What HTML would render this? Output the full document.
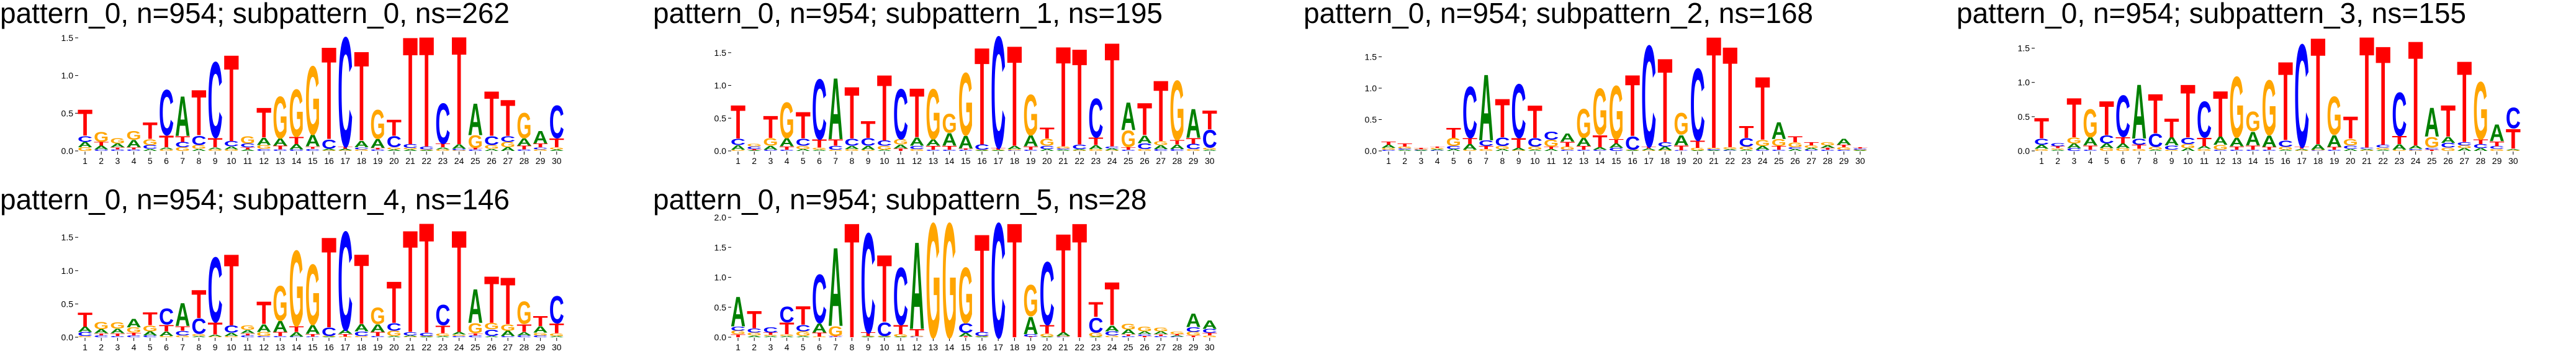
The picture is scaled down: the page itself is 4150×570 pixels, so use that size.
<!DOCTYPE html>
<html><head><meta charset="utf-8"><style>
html,body{margin:0;padding:0;background:#fff;width:4150px;height:570px;overflow:hidden;}
svg{display:block;overflow:hidden;}
text{font-family:"Liberation Sans",sans-serif;}
</style></head><body>
<svg id="fig" width="4150" height="570" viewBox="0 0 4150 570" xmlns="http://www.w3.org/2000/svg"></svg>
<script>
const titles = ["pattern_0, n=954; subpattern_0, ns=262","pattern_0, n=954; subpattern_1, ns=195","pattern_0, n=954; subpattern_2, ns=168","pattern_0, n=954; subpattern_3, ns=155","pattern_0, n=954; subpattern_4, ns=146","pattern_0, n=954; subpattern_5, ns=28"];
const positions = [1,2,3,4,5,6,7,8,9,10,11,12,13,14,15,16,17,18,19,20,21,22,23,24,25,26,27,28,29,30];
const yTicks = [0, 0.5, 1.0, 1.5, 2.0];

const p0_A = [.07,.05,.05,.1,.03,.03,.55,.03,.03,.04,.02,.1,.1,.07,.16,.02,.02,.09,.12,.02,.02,.01,.03,.06,.44,.03,.05,.1,.17,.02];
const p0_C = [.08,.02,.02,.02,.05,.63,.07,.13,1.05,.07,.05,.03,.02,.02,.03,.13,1.52,.03,.02,.15,.05,.04,.56,.02,.02,.12,.08,.02,.03,.45];
const p0_G = [.05,.14,.07,.12,.08,.02,.05,.05,.02,.02,.1,.05,.58,.66,.95,.01,.01,.02,.4,.03,.02,.01,.02,.01,.17,.05,.07,.35,.02,.03];
const p0_T = [.36,.05,.03,.03,.23,.16,.08,.63,.13,1.2,.03,.41,.05,.1,.03,1.28,.03,1.24,.02,.22,1.49,1.53,.05,1.5,.02,.62,.5,.05,.05,.12];

const p1_A = [.07,.01,.06,.13,.03,.02,.98,.05,.06,.02,.06,.13,.1,.2,.2,.01,.01,.05,.17,.03,.02,.02,.06,.03,.44,.12,.06,.07,.46,.02];
const p1_C = [.1,.04,.02,.02,.11,.96,.06,.11,.12,.08,.8,.05,.02,.02,.02,.08,1.78,.01,.02,.05,.02,.07,.62,.03,.02,.09,.03,.03,.08,.28];
const p1_G = [.02,.04,.12,.57,.05,.03,.02,.03,.02,.06,.08,.03,.8,.3,1.0,.01,.01,.02,.65,.11,.03,.01,.03,.01,.26,.03,.06,.95,.03,.03];
const p1_T = [.53,.02,.35,.05,.42,.13,.1,.83,.27,1.05,.04,.78,.06,.06,.02,1.55,.03,1.6,.05,.17,1.6,1.53,.12,1.66,.04,.51,.97,.07,.09,.3];

const p2_A = [.05,.02,.01,.02,.03,.09,1.1,.03,.04,.02,.03,.13,.13,.04,.07,.01,.03,.06,.17,.01,.01,.02,.02,.06,.28,.03,.03,.04,.1,.01];
const p2_C = [.02,.02,.01,.01,.05,.86,.09,.14,.9,.14,.13,.02,.02,.02,.05,.22,1.69,.07,.01,1.2,.02,.01,.14,.02,.02,.03,.02,.02,.02,.02];
const p2_G = [.03,.03,.01,.02,.13,.02,.03,.05,.01,.05,.11,.05,.48,.77,.89,.01,.01,.01,.36,.04,.02,.03,.05,.1,.11,.08,.04,.05,.04,.01];
const p2_T = [.05,.05,.02,.02,.17,.1,.05,.64,.16,.54,.04,.08,.06,.2,.07,1.02,.03,1.4,.08,.12,1.86,1.68,.2,1.05,.06,.1,.05,.03,.04,.02];

const p3_A = [.06,.02,.07,.12,.07,.07,.83,.02,.12,.04,.04,.12,.13,.21,.17,.02,.02,.08,.18,.03,.02,.02,.08,.05,.44,.09,.04,.04,.26,.02];
const p3_C = [.09,.05,.04,.02,.12,.63,.09,.2,.06,.1,.55,.02,.02,.02,.02,.1,1.57,.01,.02,.05,.02,.04,.66,.02,.03,.07,.05,.06,.04,.32];
const p3_G = [.03,.02,.09,.43,.04,.04,.03,.04,.02,.06,.03,.07,.93,.3,.84,.04,.01,.01,.58,.1,.01,.03,.02,.01,.16,.05,.04,.88,.03,.01];
const p3_T = [.31,.03,.6,.06,.52,.1,.06,.6,.29,.81,.13,.7,.05,.06,.04,1.2,.03,1.63,.04,.34,1.7,1.51,.12,1.6,.02,.48,1.24,.07,.07,.3];

const p4_A = [.08,.06,.07,.13,.06,.07,.36,.02,.03,.05,.05,.12,.17,.07,.14,.01,.06,.11,.12,.02,.02,.01,.02,.04,.53,.02,.08,.05,.1,.02];
const p4_C = [.06,.03,.02,.03,.03,.25,.07,.24,1.02,.11,.03,.02,.02,.01,.01,.13,1.55,.07,.02,.12,.05,.05,.32,.02,.03,.1,.02,.03,.03,.43];
const p4_G = [.02,.11,.1,.08,.09,.02,.03,.03,.01,.02,.07,.06,.55,1.19,.95,.01,.01,.02,.26,.08,.01,.01,.04,.02,.16,.1,.1,.35,.04,.04];
const p4_T = [.22,.03,.04,.04,.2,.1,.07,.44,.19,1.12,.03,.35,.06,.09,.04,1.42,.04,1.1,.06,.65,1.6,1.73,.12,1.6,.03,.73,.73,.12,.16,.15];

const p5_A = [.52,.03,.02,.02,.02,.16,1.37,0,.01,.01,.01,1.52,0,0,.06,.01,0,0,.3,.01,.06,0,.01,.1,.08,.05,.05,.02,.24,.15];
const p5_C = [.07,.07,.09,.27,.11,.85,.01,0,1.74,.24,1.0,.01,0,0,.17,.07,2.0,0,.04,1.1,.01,0,.26,.07,.02,.03,.02,.01,.08,.07];
const p5_G = [.06,.05,.02,.03,.08,.01,.17,0,.01,.01,.04,.01,2.0,2.0,.97,.01,0,0,.55,.05,.01,0,.07,.03,.1,.08,.06,.04,.06,.03];
const p5_T = [.05,.3,.04,.2,.32,.07,.01,2.0,.06,1.17,.16,.12,0,0,.01,1.71,0,2.0,.01,.15,1.73,2.0,.26,.75,.03,.02,.03,.02,.03,.04];

const panelData = [[p0_A,p0_C,p0_G,p0_T],[p1_A,p1_C,p1_G,p1_T],[p2_A,p2_C,p2_G,p2_T],[p3_A,p3_C,p3_G,p3_T],[p4_A,p4_C,p4_G,p4_T],[p5_A,p5_C,p5_G,p5_T]];
const letters = ["A","C","G","T"];
const colors = {A:"#008000",C:"#0000ff",G:"#ffa500",T:"#ff0000"};
const offX = [0,1052,2100,3152,0,1052];
const offY = [0,0,0,0,300,300];

const NS = "http://www.w3.org/2000/svg";
const svg = document.getElementById("fig");
function mk(tag, attrs, parent){const e=document.createElementNS(NS,tag);for(const k in attrs)e.setAttribute(k,attrs[k]);parent.appendChild(e);return e;}

const STEP = 26.2, PLOT_H = 193, CAP = 72.9;
panelData.forEach((series, pi) => {
  const g = mk("g", {}, svg);
  
  
  const x0 = offX[pi] + 137, zeroY = offY[pi] + 243;
  const totals = positions.map((_, i) => series.reduce((s, arr) => s + arr[i], 0));
  const ymax = Math.max(...totals);
  const yScale = v => zeroY - v / ymax * PLOT_H;
  const xScale = i => x0 + i * STEP;

  const t = mk("text", {x: offX[pi], y: offY[pi] + 37, "font-size": 46, fill: "#000"}, g);
  
  
  t.textContent = titles[pi];

  yTicks.filter(v => v <= ymax + 1e-6).forEach(v => {
    const y = yScale(v);
    const tk = mk("line", {x1: x0 - 16, x2: x0 - 11, y1: y, y2: y, stroke: "#000", "stroke-width": 1}, g);
    
    
    const lb = mk("text", {x: x0 - 19, y: y + 5, "font-size": 14, "text-anchor": "end", fill: "#000"}, g);
    
    
    lb.textContent = v.toFixed(1);
  });

  positions.forEach((p, i) => {
    const cx = xScale(i);
    const tk = mk("line", {x1: cx, x2: cx, y1: zeroY + 1, y2: zeroY + 6, stroke: "#000", "stroke-width": 1}, g);
    
    
    const lb = mk("text", {x: cx, y: zeroY + 21, "font-size": 14, "text-anchor": "middle", fill: "#000"}, g);
    
    
    lb.textContent = p;

    const items = letters.map((L, k) => ({L, v: series[k][i]})).sort((a, b) => a.v - b.v);
    let acc = 0;
    const w = STEP * 0.92;
    items.forEach(it => {
      const yb = yScale(acc), yt = yScale(acc + it.v);
      acc += it.v;
      const h = yb - yt;
      if (h < 0.4) return;
      const gl = mk("text", {x: 0, y: 0, "font-size": 100, "font-weight": "bold", fill: colors[it.L],
        textLength: w, lengthAdjust: "spacingAndGlyphs",
        transform: `translate(${cx - w / 2},${yb}) scale(1,${h / CAP})`}, g);
      
      
      gl.textContent = it.L;
    });
  });
});
</script>
</body></html>
